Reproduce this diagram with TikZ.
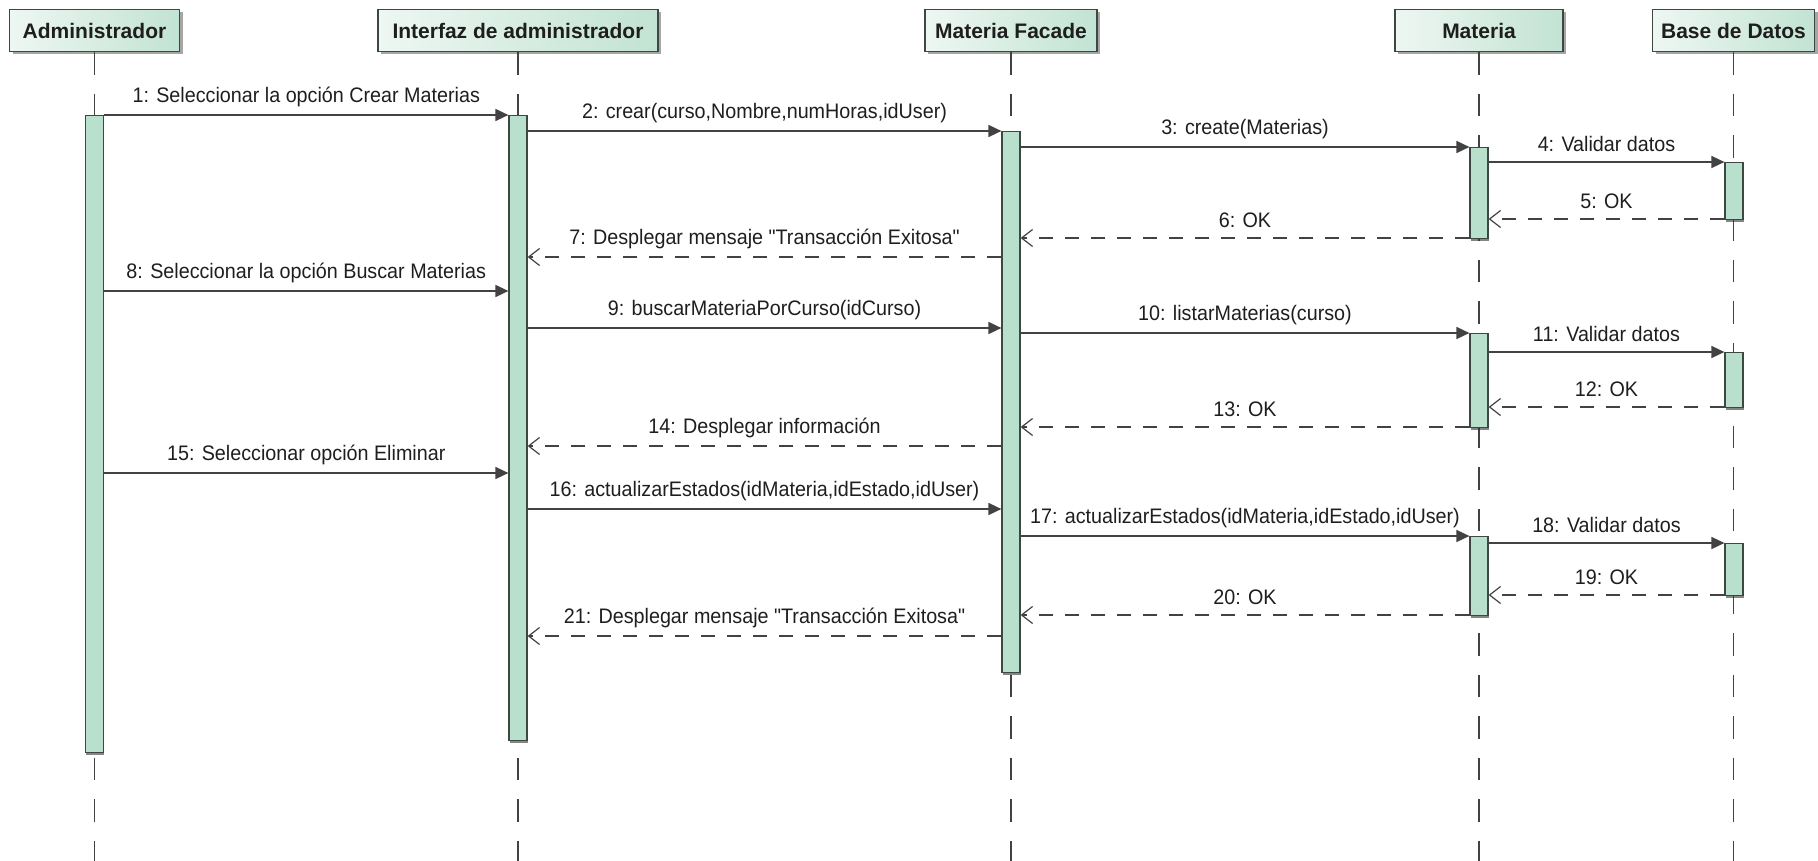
\documentclass[tikz,border=0pt]{standalone}
\usepackage{fontspec}
\setmainfont{Liberation Sans}
\newfontfamily\msgfont[FakeStretch=0.94]{Liberation Sans}
\usetikzlibrary{arrows.meta,shadows}

\definecolor{edge}{RGB}{62,72,66}
\definecolor{mint}{RGB}{184,224,204}
\definecolor{hdrlight}{RGB}{238,247,242}
\definecolor{hdrdark}{RGB}{194,227,211}
\definecolor{ink}{RGB}{30,30,30}
\definecolor{wire}{RGB}{66,66,66}

\begin{document}
\begin{tikzpicture}[x=1pt,y=-1pt,
  header/.style={draw=edge, line width=1.3pt, left color=hdrlight, right color=hdrdark,
    minimum height=42pt, inner sep=0pt, text=ink,
    font=\fontsize{21}{24}\selectfont\bfseries,
    drop shadow={shadow xshift=3pt, shadow yshift=-3pt, opacity=0.35, fill=black}},
  lifeline/.style={draw=wire, line width=1.2pt, dash pattern=on 22.5pt off 19pt},
  actbar/.style={draw=edge, fill=mint, line width=1.2pt, minimum width=18pt,
    inner sep=0pt, anchor=north,
    drop shadow={shadow xshift=0.5pt, shadow yshift=-2.5pt, opacity=0.6, fill=black!80}},
  call/.style={draw=wire, line width=1.6pt, -{Triangle[length=13pt,width=12pt]}},
  reply/.style={draw=wire, line width=1.5pt, dash pattern=on 14pt off 12pt,
    -{Straight Barb[length=11pt,width=17pt,line width=1.2pt]}},
  lbl/.style={midway, yshift=18pt, inner sep=0pt, text=ink,
    font=\msgfont\fontsize{21}{24}\selectfont}
]
\useasboundingbox (0,0) rectangle (1818,861);

% participant heads
\node[header, minimum width=170pt] (hA) at (94.5,30.5) {Administrador};
\node[header, minimum width=280pt] (hI) at (518,30.5) {Interfaz de administrador};
\node[header, minimum width=172pt] (hF) at (1011,30.5) {Materia Facade};
\node[header, minimum width=168pt] (hM) at (1479,30.5) {Materia};
\node[header, minimum width=162pt] (hD) at (1733.5,30.5) {Base de Datos};

% lifelines to the bottom edge
\coordinate (floor) at (0,861);
\foreach \p in {hA,hI,hF,hM,hD}
  \draw[lifeline] (\p.south) -- (\p.south |- floor);

% activation bars
\node[actbar, minimum height=637pt] (bA)  at (94.5,115) {};
\node[actbar, minimum height=625pt] (bI)  at (518,115) {};
\node[actbar, minimum height=541pt] (bF)  at (1011,131) {};
\node[actbar, minimum height=91pt]  (bM1) at (1479,147) {};
\node[actbar, minimum height=57pt]  (bD1) at (1734,162) {};
\node[actbar, minimum height=94pt]  (bM2) at (1479,333) {};
\node[actbar, minimum height=55pt]  (bD2) at (1734,352) {};
\node[actbar, minimum height=79pt]  (bM3) at (1479,536) {};
\node[actbar, minimum height=52pt]  (bD3) at (1734,543) {};

% message levels
\foreach \n/\y in {1/115,2/131,3/147,4/162,5/219,6/238,7/257,8/291,9/328,10/333,
                   11/352,12/407,13/427,14/446,15/473,16/509,17/536,18/543,
                   19/595,20/615,21/636}
  \coordinate (y\n) at (0,\y);

% creation of a subject
\draw[call] (bA.east |- y1) -- node[lbl] {1: Seleccionar la opción Crear Materias} (bI.west |- y1);
\draw[call] (bI.east |- y2) -- node[lbl] {2: crear(curso,Nombre,numHoras,idUser)} (bF.west |- y2);
\draw[call] (bF.east |- y3) -- node[lbl] {3: create(Materias)} (bM1.west |- y3);
\draw[call] (bM1.east |- y4) -- node[lbl] {4: Validar datos} (bD1.west |- y4);
\draw[reply] (bD1.west |- y5) -- node[lbl] {5: OK} (bM1.east |- y5);
\draw[reply] (bM1.west |- y6) -- node[lbl] {6: OK} (bF.east |- y6);
\draw[reply] (bF.west |- y7) -- node[lbl] {7: Desplegar mensaje "Transacción Exitosa"} (bI.east |- y7);

% search by course
\draw[call] (bA.east |- y8) -- node[lbl] {8: Seleccionar la opción Buscar Materias} (bI.west |- y8);
\draw[call] (bI.east |- y9) -- node[lbl] {9: buscarMateriaPorCurso(idCurso)} (bF.west |- y9);
\draw[call] (bF.east |- y10) -- node[lbl] {10: listarMaterias(curso)} (bM2.west |- y10);
\draw[call] (bM2.east |- y11) -- node[lbl] {11: Validar datos} (bD2.west |- y11);
\draw[reply] (bD2.west |- y12) -- node[lbl] {12: OK} (bM2.east |- y12);
\draw[reply] (bM2.west |- y13) -- node[lbl] {13: OK} (bF.east |- y13);
\draw[reply] (bF.west |- y14) -- node[lbl] {14: Desplegar información} (bI.east |- y14);

% state update
\draw[call] (bA.east |- y15) -- node[lbl] {15: Seleccionar opción Eliminar} (bI.west |- y15);
\draw[call] (bI.east |- y16) -- node[lbl] {16: actualizarEstados(idMateria,idEstado,idUser)} (bF.west |- y16);
\draw[call] (bF.east |- y17) -- node[lbl] {17: actualizarEstados(idMateria,idEstado,idUser)} (bM3.west |- y17);
\draw[call] (bM3.east |- y18) -- node[lbl] {18: Validar datos} (bD3.west |- y18);
\draw[reply] (bD3.west |- y19) -- node[lbl] {19: OK} (bM3.east |- y19);
\draw[reply] (bM3.west |- y20) -- node[lbl] {20: OK} (bF.east |- y20);
\draw[reply] (bF.west |- y21) -- node[lbl] {21: Desplegar mensaje "Transacción Exitosa"} (bI.east |- y21);
\end{tikzpicture}
\end{document}
